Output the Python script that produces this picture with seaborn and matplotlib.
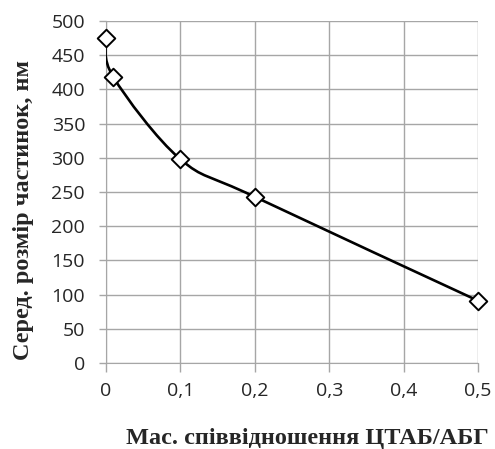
import numpy as np
import pandas as pd
import matplotlib
matplotlib.use("Agg")
import matplotlib.pyplot as plt
from matplotlib.path import Path
from matplotlib.patches import PathPatch
from matplotlib.ticker import FuncFormatter
import seaborn as sns

# mass ratio CTAB/ABG vs mean particle size
ratio = [0.0, 0.01, 0.1, 0.2, 0.5]
size_nm = [475, 418, 298, 243, 91]
x_ticks = [0.0, 0.1, 0.2, 0.3, 0.4, 0.5]
y_ticks = list(range(0, 501, 50))

df = pd.DataFrame({"ratio": ratio, "size": size_nm})

sns.set_style("white")
plt.rcParams["font.family"] = ["Open Sans", "DejaVu Sans"]

fig = plt.figure(figsize=(4.95, 4.49), dpi=100)
ax = fig.add_axes([0.214, 0.1915, 0.752, 0.7615])


# excel-like smoothed line: catmull-rom as cubic bezier segments
def smooth_path(xs, ys):
    pts = np.column_stack([xs, ys]).astype(float)
    ext = np.vstack([pts[0], pts, pts[-1]])
    verts = [pts[0]]
    codes = [Path.MOVETO]
    for i in range(1, len(ext) - 2):
        p0, p1, p2, p3 = ext[i - 1], ext[i], ext[i + 1], ext[i + 2]
        c1 = p1 + (p2 - p0) / 6.0
        c2 = p2 - (p3 - p1) / 6.0
        verts += [c1, c2, p2]
        codes += [Path.CURVE4] * 3
    return Path(verts, codes)


ax.add_patch(PathPatch(smooth_path(df["ratio"], df["size"]), fill=False,
                       edgecolor="black", lw=1.9, zorder=3))
sns.scatterplot(data=df, x="ratio", y="size", marker="D", s=80,
                color="white", edgecolor="black", linewidth=1.4,
                zorder=4, ax=ax, clip_on=False)

ax.set_xlim(0, 0.5)
ax.set_ylim(0, 500)
ax.set_xticks(x_ticks)
ax.set_yticks(y_ticks)
ax.xaxis.set_major_formatter(FuncFormatter(lambda v, p: f"{v:g}".replace(".", ",")))
ax.grid(True, color="#a6a6a6", lw=1)
for s in ["top", "right"]:
    ax.spines[s].set_visible(False)
ax.spines["left"].set_color("#a6a6a6")
ax.spines["bottom"].set_color("#a6a6a6")
ax.tick_params(axis="x", direction="out", length=6.5, width=1, color="#a6a6a6",
               labelsize=14, pad=7)
ax.tick_params(axis="y", direction="out", length=5, width=1, color="#a6a6a6",
               labelsize=14, pad=10)
ax.tick_params(bottom=True, left=True)

ax.set_xlabel("Мас. співвідношення ЦТАБ/АБГ", family="Liberation Serif",
              fontweight="bold", fontsize=17.5)
ax.set_ylabel("Серед. розмір частинок, нм", family="Liberation Serif",
              fontweight="bold", fontsize=17.5)
ax.xaxis.set_label_coords(0.54, -0.19)
ax.yaxis.set_label_coords(-0.194, 0.447)

fig.savefig("out.png", dpi=100)
